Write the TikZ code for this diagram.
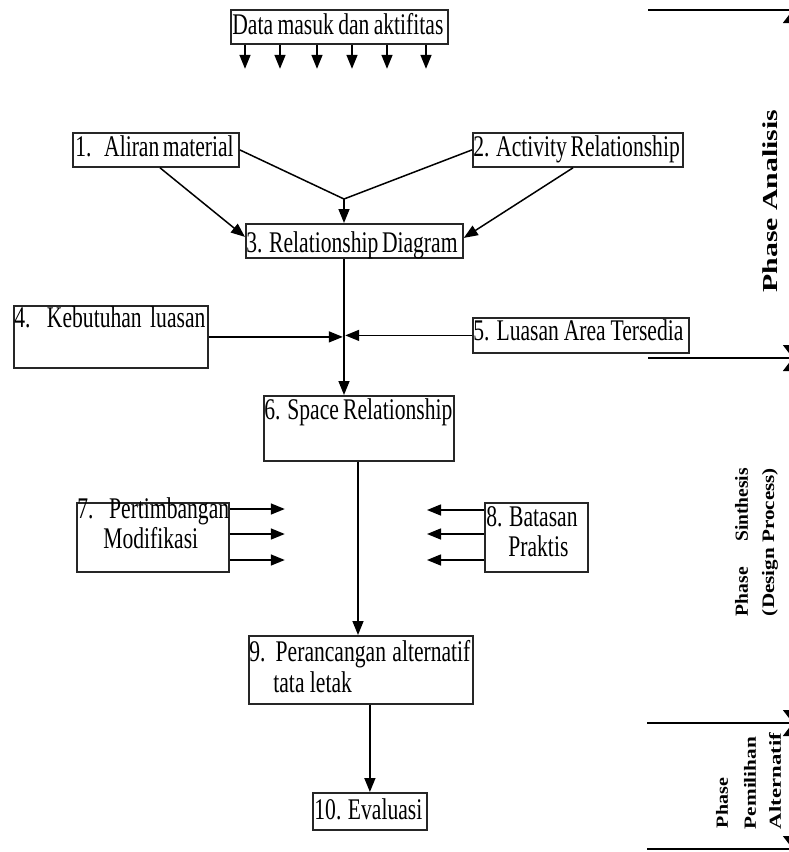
\documentclass[tikz,border=0pt]{standalone}
\usepackage{fontspec}
\setmainfont{Liberation Serif}[FakeStretch=0.72]
\newfontfamily\phasefont{Liberation Serif}
\usepackage{graphicx}
\usetikzlibrary{arrows.meta,calc}
\newdimen\pxu \pxu=0.5pt
\newcommand{\tw}[2]{\makebox[#1\pxu][s]{#2}}
\newcommand{\rtxt}[3]{\resizebox{#1\pxu}{#2\pxu}{\rotatebox{90}{\phasefont\bfseries #3}}}
\begin{document}
\begin{tikzpicture}[x=0.5pt,y=-0.5pt,
  font=\fontsize{15}{16}\selectfont,
  box/.style={draw=black!85, line width=0.9pt, inner sep=0pt, anchor=north west},
  txt/.style={anchor=base west, inner sep=0pt},
  rot/.style={inner sep=0pt},
  ln/.style={line width=0.75pt},
  arr/.style={line width=0.75pt, -{Triangle[length=7pt,width=5.5pt]}},
  dim/.style={line width=0.75pt, {Triangle[length=6pt,width=9pt]}-{Triangle[length=6pt,width=9pt]}}]
\fill[white] (0,0) rectangle (788,852);
\useasboundingbox (0,0) rectangle (788,852);

% boxes
\node[box, minimum width=217\pxu, minimum height=34\pxu] (top) at (230,9) {};
\node[box, minimum width=166\pxu, minimum height=34\pxu] (b1) at (72,132) {};
\node[box, minimum width=210\pxu, minimum height=34\pxu] (b2) at (472,132) {};
\node[box, minimum width=217\pxu, minimum height=34\pxu] (b3) at (245,223) {};
\node[box, minimum width=194\pxu, minimum height=62\pxu] (b4) at (13,305) {};
\node[box, minimum width=216\pxu, minimum height=35\pxu] (b5) at (472,317) {};
\node[box, minimum width=190\pxu, minimum height=65\pxu] (b6) at (263,395) {};
\node[box, minimum width=152\pxu, minimum height=69\pxu] (b7) at (76,502) {};
\node[box, minimum width=103\pxu, minimum height=69\pxu] (b8) at (484,502) {};
\node[box, minimum width=224\pxu, minimum height=68\pxu] (b9) at (248,635) {};
\node[box, minimum width=114\pxu, minimum height=37\pxu] (b10) at (312,792) {};

% texts
\node[txt] (ttop) at (232,34) {\tw{211}{Data masuk dan aktifitas}};
\node[txt] (t1) at (75,156) {\tw{153}{1.\hspace{0.2em} Aliran material}};
\node[txt] (t2) at (473,156) {\tw{204}{2. Activity Relationship}};
\node[txt] (t3) at (246,252) {\tw{209}{3. Relationship Diagram}};
\node[txt] (t4) at (14,327) {\tw{191}{4. Kebutuhan luasan}};
\node[txt] (t5) at (473,340) {\tw{210}{5. Luasan Area Tersedia}};
\node[txt] (t6) at (264,419) {\tw{188}{6. Space Relationship}};
\node[txt] (t7a) at (77,518) {\tw{150}{7.\hspace{0.3em} Pertimbangan}};
\node[txt] (t7b) at (103,548) {Modifikasi};
\node[txt] (t8a) at (486,526) {\tw{87}{8. Batasan}};
\node[txt] (t8b) at (508,556) {Praktis};
\node[txt] (t9a) at (249,661) {\tw{221}{9. Perancangan alternatif}};
\node[txt] (t9b) at (273,692) {tata letak};
\node[txt] (t10) at (314,819) {\tw{105}{10. Evaluasi}};

% top input arrows
\foreach \o in {15,50,87,122,157,196}
  \draw[arr] ($(top.south west)+(\o,0)$) -- ++(0,24);

% connectors
\coordinate (J) at (344,199);
\draw[ln] (b1.east) -- (J);
\draw[ln] (b2.west) -- (J);
\draw[arr] (J) -- (J |- b3.north);
\draw[arr] ($(b1.south west)+(88,0)$) -- ($(b3.west)+(0,-4)$);
\draw[arr] ($(b2.south west)+(101,0)$) -- ($(b3.east)+(0,-3)$);
\coordinate (K) at (344,336);
\draw[arr] (b3.south -| J) -- (J |- b6.north);
\draw[arr] (b4.east) -- ([xshift=-0.6pt]b4.east -| K);
\draw[arr] (b5.west) -- ([xshift=0.6pt]b5.west -| K);
\draw[arr] ($(b6.south west)+(95,0)$) -- ($(b9.north west)+(110,0)$);
\draw[arr] (b10.north |- b9.south) -- (b10.north);
\foreach \d in {7,32,58}
  \draw[arr] ($(b7.north east)+(0,\d)$) -- ++(55,0);
\foreach \d in {8,32,58}
  \draw[arr] ($(b8.north west)+(0,\d)$) -- ++(-57,0);

% phase markers on the right
\coordinate (p0) at (648,10);
\coordinate (p1) at (648,358);
\coordinate (p2) at (647,723);
\coordinate (p3) at (647,849);
\draw[ln] (p0) -- ++(142,0);
\draw[ln] (p1) -- ++(142,0);
\draw[ln] (p2) -- ++(143,0);
\draw[ln] (p3) -- ++(143,0);
\draw[dim] (792,11) -- (792,357);
\draw[dim] (792,359) -- (792,722);
\draw[dim] (792,724) -- (792,848);

\node[rot] (pa) at (770,201) {\rtxt{15}{183}{Phase Analisis}};
\node[rot] (ps1) at (741.5,542) {\rtxt{13}{148}{Phase\hspace{1.3em}Sinthesis}};
\node[rot] (ps2) at (770,542) {\rtxt{16}{148}{(Design Process)}};
\node[rot] (pp1) at (722,803) {\rtxt{12}{50}{Phase}};
\node[rot] (pp2) at (750,783) {\rtxt{12}{92}{Pemilihan}};
\node[rot] (pp3) at (775,781) {\rtxt{12}{96}{Alternatif}};
\end{tikzpicture}
\end{document}
